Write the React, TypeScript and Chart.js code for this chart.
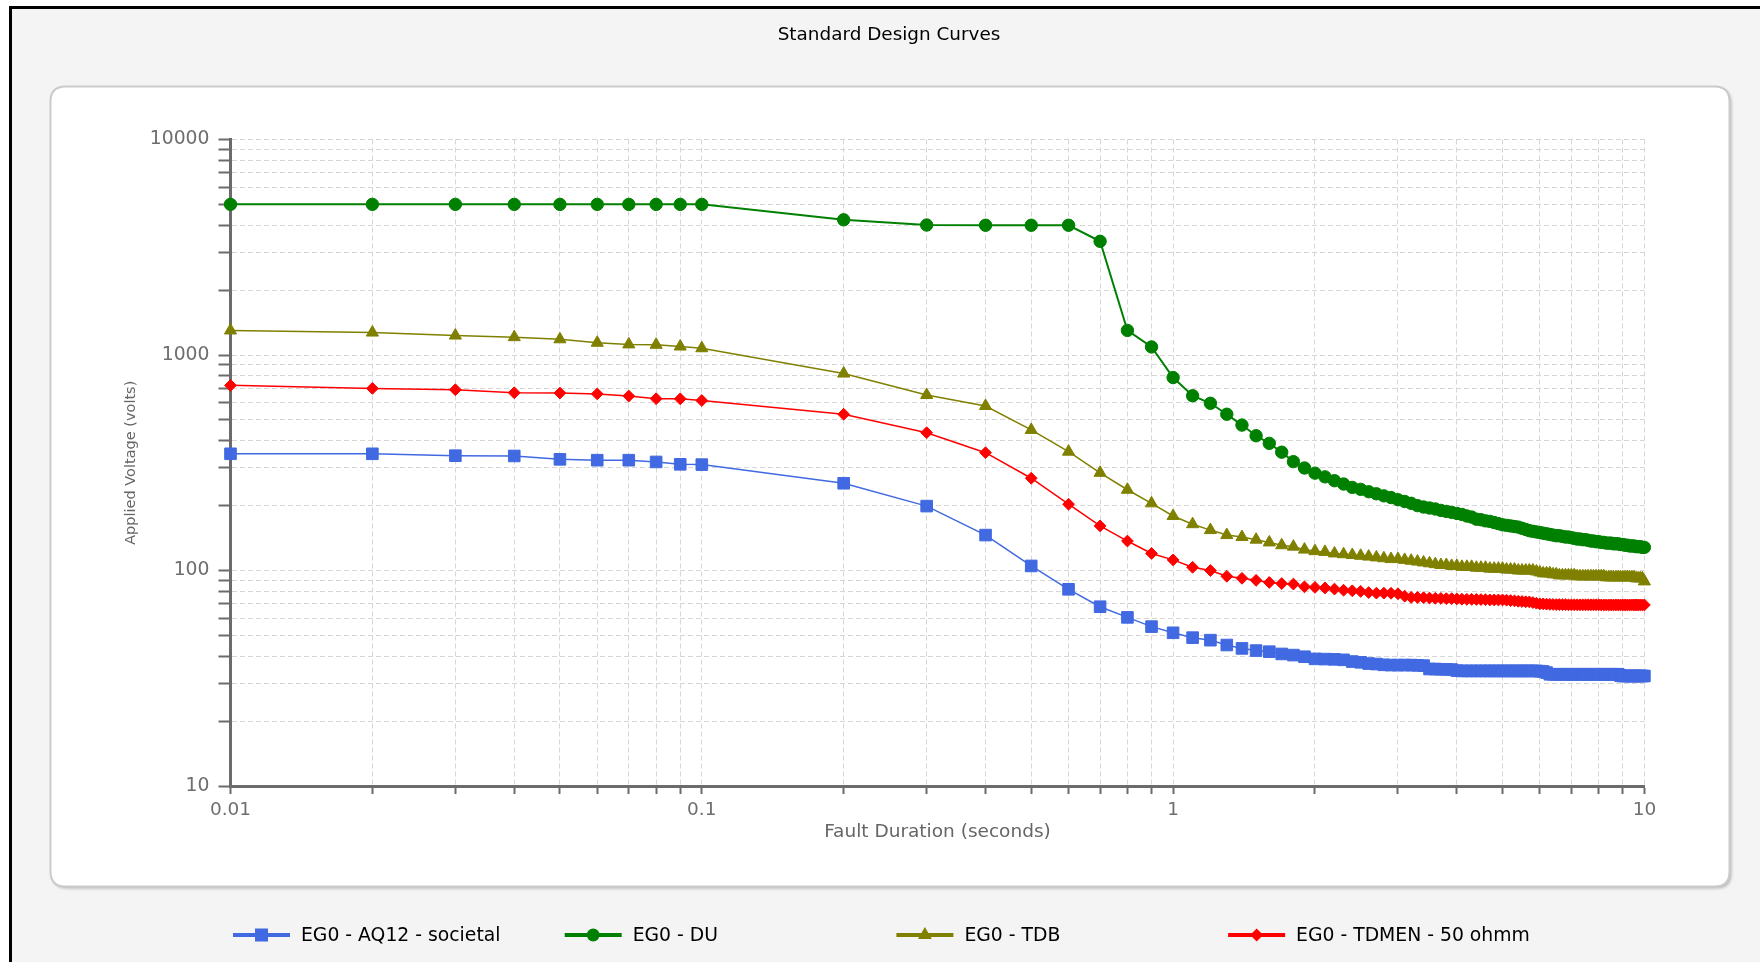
import React, { useEffect, useRef } from 'react';
import { Chart, registerables } from 'chart.js';

Chart.register(...registerables);

const W = 1760;
const H = 962;

const chartTitle = 'Standard Design Curves';
const xAxisTitle = 'Fault Duration (seconds)';
const yAxisTitle = 'Applied Voltage (volts)';

const seriesNames = ['EG0 - AQ12 - societal', 'EG0 - DU', 'EG0 - TDB', 'EG0 - TDMEN - 50 ohmm'];

// Fault duration (seconds)
const durations = [
  0.01, 0.02, 0.03, 0.04, 0.05, 0.06, 0.07, 0.08, 0.09, 0.1,
  0.2, 0.3, 0.4, 0.5, 0.6, 0.7, 0.8, 0.9, 1.0,
  1.1, 1.2, 1.3, 1.4, 1.5, 1.6, 1.7, 1.8, 1.9, 2.0,
  2.1, 2.2, 2.3, 2.4, 2.5, 2.6, 2.7, 2.8, 2.9, 3.0,
  3.1, 3.2, 3.3, 3.4, 3.5, 3.6, 3.7, 3.8, 3.9, 4.0,
  4.1, 4.2, 4.3, 4.4, 4.5, 4.6, 4.7, 4.8, 4.9, 5.0,
  5.1, 5.2, 5.3, 5.4, 5.5, 5.6, 5.7, 5.8, 5.9, 6.0,
  6.1, 6.2, 6.3, 6.4, 6.5, 6.6, 6.7, 6.8, 6.9, 7.0,
  7.1, 7.2, 7.3, 7.4, 7.5, 7.6, 7.7, 7.8, 7.9, 8.0,
  8.1, 8.2, 8.3, 8.4, 8.5, 8.6, 8.7, 8.8, 8.9, 9.0,
  9.1, 9.2, 9.3, 9.4, 9.5, 9.6, 9.7, 9.8, 9.9, 10.0,
];

const aq12Values = [
  348, 348, 341, 340, 328, 325, 325, 319, 311, 310,
  254, 199, 146, 105, 81.8, 67.9, 60.6, 54.9, 51.4,
  48.8, 47.5, 45.1, 43.5, 42.5, 42, 41, 40.5, 39.8, 38.9,
  38.8, 38.7, 38.5, 37.8, 37.5, 37, 36.8, 36.5, 36.4, 36.4,
  36.4, 36.4, 36.3, 36.2, 34.9, 34.9, 34.8, 34.8, 34.7, 34.3,
  34.2, 34.2, 34.2, 34.2, 34.2, 34.2, 34.2, 34.2, 34.2, 34.2,
  34.2, 34.2, 34.2, 34.2, 34.2, 34.2, 34.2, 34.2, 34.2, 34.1,
  34, 33.6, 33, 33, 33, 33, 33, 33, 33, 33,
  33, 33, 33, 33, 33, 33, 33, 33, 33, 33,
  33, 33, 33, 33, 33, 33, 33, 33, 32.5, 32.4,
  32.4, 32.4, 32.4, 32.4, 32.4, 32.4, 32.4, 32.4, 32.4, 32.4,
];

const duValues = [
  5000, 5000, 5000, 5000, 5000, 5000, 5000, 5000, 5000, 5000,
  4240, 4010, 4000, 4000, 4000, 3370, 1300, 1090, 786,
  647, 597, 531, 473, 422, 389, 354, 320, 299, 283,
  272, 261, 252, 243, 238, 232, 227, 222, 218, 213,
  209, 205, 200, 197, 195, 193, 190, 188, 186, 184,
  182, 179, 177, 173, 172, 170, 169, 167, 165, 163,
  162, 161, 160, 159, 157, 155, 153, 152, 151, 150,
  149, 148, 147, 146, 145, 145, 144, 143, 143, 142,
  141, 140, 140, 139, 139, 138, 137, 137, 136, 136,
  135, 135, 134, 134, 134, 133, 133, 133, 132, 132,
  131, 131, 130, 130, 130, 129, 129, 129, 128, 128,
];

const tdbValues = [
  1300, 1271, 1231, 1210, 1183, 1140, 1120, 1115, 1095, 1075,
  820, 652, 580, 449, 356, 284, 237, 205, 179,
  164, 154, 146, 143, 139, 135, 131, 129, 125, 123,
  122, 120, 119, 118, 117, 116, 115, 114, 113, 113,
  112, 111, 110, 109, 108, 107, 106, 106, 105, 105,
  104, 104, 104, 103, 103, 103, 102, 102, 102, 102,
  101, 101, 101, 100, 100, 100, 100, 100, 99, 98,
  97, 97, 97, 96, 96, 95, 95, 95, 95, 95,
  95, 94, 94, 94, 94, 94, 94, 94, 94, 94,
  94, 94, 93, 93, 93, 93, 93, 93, 93, 93,
  93, 93, 93, 93, 93, 92, 92, 92, 92, 89,
];

const tdmenValues = [
  723, 700, 690, 668, 666, 660, 645, 627, 626, 615,
  531, 436, 352, 268, 203, 161, 137, 120, 112,
  103.5, 100, 94, 92, 90, 88, 87, 86.5, 84, 83.5,
  83, 82, 81, 80.5, 80, 79, 78.5, 78.5, 78.4, 78,
  76, 75, 75, 74.8, 74.5, 74.3, 74.2, 74, 74, 73.8,
  73.6, 73.5, 73.5, 73.4, 73.3, 73.2, 73, 73, 73, 73,
  72.8, 72.5, 72.3, 72, 71.8, 71.6, 71.5, 71, 70.5, 70,
  70, 69.8, 69.7, 69.6, 69.5, 69.5, 69.4, 69.4, 69.3, 69.3,
  69.3, 69.3, 69.3, 69.3, 69.3, 69.3, 69.3, 69.3, 69.3, 69.3,
  69.2, 69.2, 69.2, 69.2, 69.2, 69.2, 69.2, 69.2, 69.2, 69.2,
  69.2, 69.2, 69.2, 69.2, 69.2, 69.2, 69.2, 69.2, 69.2, 69.2,
];

const xTicks = [
  0.01, 0.02, 0.03, 0.04, 0.05, 0.06, 0.07, 0.08, 0.09,
  0.1, 0.2, 0.3, 0.4, 0.5, 0.6, 0.7, 0.8, 0.9,
  1, 2, 3, 4, 5, 6, 7, 8, 9, 10,
];
const yTicks = [
  10, 20, 30, 40, 50, 60, 70, 80, 90,
  100, 200, 300, 400, 500, 600, 700, 800, 900,
  1000, 2000, 3000, 4000, 5000, 6000, 7000, 8000, 9000, 10000,
];
const xMajorValues = [0.01, 0.1, 1, 10];
const xTickLabels = ['0.01', '0.1', '1', '10'];
const yMajorValues = [10, 100, 1000, 10000];
const yTickLabels = ['10', '100', '1000', '10000'];

const colors = ['#4169e1', '#008000', '#808000', '#ff0000'];
const styles = ['rect', 'circle', 'triangle', 'rectRot'];
const radii = [8.2, 6.2, 7, 5.9];
const lineWidths = [1.5, 2, 1.5, 1.5];
const seriesValues = [aq12Values, duValues, tdbValues, tdmenValues];

const FONT = "'DejaVu Sans', 'Open Sans', sans-serif";

function majorLabel(v: number, majors: number[], labels: string[]) {
  const i = majors.findIndex((m) => Math.abs(v - m) / m < 1e-6);
  return i >= 0 ? labels[i] : '';
}

function drawMarker(ctx: CanvasRenderingContext2D, style: string, x: number, y: number, r: number) {
  ctx.beginPath();
  if (style === 'rect') {
    ctx.rect(x - r, y - r, 2 * r, 2 * r);
  } else if (style === 'circle') {
    ctx.arc(x, y, r, 0, Math.PI * 2);
  } else if (style === 'triangle') {
    ctx.moveTo(x, y - r);
    ctx.lineTo(x + r * 0.866, y + r * 0.5);
    ctx.lineTo(x - r * 0.866, y + r * 0.5);
    ctx.closePath();
  } else {
    ctx.moveTo(x - r, y);
    ctx.lineTo(x, y - r);
    ctx.lineTo(x + r, y);
    ctx.lineTo(x, y + r);
    ctx.closePath();
  }
  ctx.fill();
}

const decorPlugin = {
  id: 'decor',
  beforeDraw(chart: any) {
    const ctx: CanvasRenderingContext2D = chart.ctx;
    ctx.save();
    ctx.fillStyle = '#ffffff';
    ctx.fillRect(0, 0, W, H);
    ctx.fillStyle = '#f4f4f4';
    ctx.fillRect(10, 7, W - 10, H - 7);
    ctx.fillStyle = '#000000';
    ctx.fillRect(9, 6, W - 9, 3);
    ctx.fillRect(9, 6, 3, H - 6);
    // rounded white panel
    const px = 50.5, py = 86.5, pw = 1679, ph = 800, r = 15;
    ctx.beginPath();
    ctx.moveTo(px + r, py);
    ctx.lineTo(px + pw - r, py);
    ctx.quadraticCurveTo(px + pw, py, px + pw, py + r);
    ctx.lineTo(px + pw, py + ph - r);
    ctx.quadraticCurveTo(px + pw, py + ph, px + pw - r, py + ph);
    ctx.lineTo(px + r, py + ph);
    ctx.quadraticCurveTo(px, py + ph, px, py + ph - r);
    ctx.lineTo(px, py + r);
    ctx.quadraticCurveTo(px, py, px + r, py);
    ctx.closePath();
    ctx.shadowColor = 'rgba(0,0,0,0.25)';
    ctx.shadowBlur = 3;
    ctx.shadowOffsetX = 2;
    ctx.shadowOffsetY = 2;
    ctx.fillStyle = '#ffffff';
    ctx.fill();
    ctx.shadowColor = 'transparent';
    ctx.strokeStyle = '#cbcbcb';
    ctx.lineWidth = 2;
    ctx.stroke();
    ctx.restore();
  },
  afterDraw(chart: any) {
    const ctx: CanvasRenderingContext2D = chart.ctx;
    ctx.save();
    ctx.fillStyle = '#000000';
    ctx.font = `18.4px ${FONT}`;
    ctx.textAlign = 'center';
    ctx.textBaseline = 'middle';
    ctx.fillText(chartTitle, 889, 35);

    // legend
    const ly = 935;
    chart.data.datasets.forEach((ds: any, i: number) => {
      const x0 = 233 + i * 331.7;
      ctx.strokeStyle = ds.borderColor;
      ctx.lineWidth = 4;
      ctx.beginPath();
      ctx.moveTo(x0, ly);
      ctx.lineTo(x0 + 57, ly);
      ctx.stroke();
      ctx.fillStyle = ds.borderColor;
      drawMarker(ctx, styles[i], x0 + 28.5, ly, styles[i] === 'rect' ? 6.5 : styles[i] === 'triangle' ? 8 : 6.5);
      ctx.fillStyle = '#000000';
      ctx.font = `18.8px ${FONT}`;
      ctx.textAlign = 'left';
      ctx.textBaseline = 'middle';
      ctx.fillText(ds.label, x0 + 68, ly + 1);
    });
    ctx.restore();
  },
};

export default function App() {
  const canvasRef = useRef<HTMLCanvasElement | null>(null);

  useEffect(() => {
    if (!canvasRef.current) return;
    const datasets = seriesNames.map((name, i) => ({
      label: name,
      data: durations.map((x, j) => ({ x, y: seriesValues[i][j] })),
      borderColor: colors[i],
      backgroundColor: colors[i],
      borderWidth: lineWidths[i],
      pointStyle: styles[i],
      pointRadius: radii[i],
      pointBackgroundColor: colors[i],
      pointBorderColor: colors[i],
      pointBorderWidth: 1,
      tension: 0,
      fill: false,
      clip: false,
    }));

    const chart = new Chart(canvasRef.current, {
      type: 'line',
      data: { datasets },
      plugins: [decorPlugin],
      options: {
        responsive: false,
        maintainAspectRatio: false,
        animation: false,
        events: [],
        layout: { padding: { left: 0, right: 115.6, top: 139.5, bottom: 106 } },
        plugins: {
          legend: { display: false },
          title: { display: false },
          tooltip: { enabled: false },
        },
        scales: {
          x: {
            type: 'logarithmic',
            min: 0.01,
            max: 10,
            afterBuildTicks: (scale: any) => {
              scale.ticks = xTicks.map((v) => ({ value: v }));
            },
            afterFit: (scale: any) => {
              scale.height = 70;
            },
            ticks: {
              autoSkip: false,
              maxRotation: 0,
              minRotation: 0,
              padding: 5,
              color: '#6e6e6e',
              font: { family: FONT, size: 18.5 },
              callback: (v: any) => majorLabel(Number(v), xMajorValues, xTickLabels),
            },
            grid: {
              color: '#d6d6d6',
              lineWidth: 1,
              drawTicks: true,
              tickLength: 8,
              tickColor: '#6b6b6b',
              tickWidth: 2,
            },
            border: { display: true, color: '#6b6b6b', width: 3, dash: [5, 3] },
            title: {
              display: true,
              text: xAxisTitle,
              color: '#666666',
              font: { family: FONT, size: 18.5 },
              padding: { top: 0, bottom: 13 },
            },
          },
          y: {
            type: 'logarithmic',
            min: 10,
            max: 10000,
            afterBuildTicks: (scale: any) => {
              scale.ticks = yTicks.map((v) => ({ value: v }));
            },
            afterFit: (scale: any) => {
              scale.width = 230.5;
            },
            ticks: {
              autoSkip: false,
              padding: 9,
              color: '#6e6e6e',
              font: { family: FONT, size: 18.8 },
              callback: (v: any) => majorLabel(Number(v), yMajorValues, yTickLabels),
            },
            grid: {
              color: '#d6d6d6',
              lineWidth: 1,
              drawTicks: true,
              tickLength: 12,
              tickColor: '#6b6b6b',
              tickWidth: 2,
            },
            border: { display: true, color: '#6b6b6b', width: 3, dash: [5, 3] },
            title: {
              display: true,
              text: yAxisTitle,
              color: '#666666',
              font: { family: FONT, size: 14.5 },
              padding: { top: 122.3, bottom: 0 },
            },
          },
        },
      } as any,
    });
    return () => chart.destroy();
  }, []);

  return (
    <div style={{ position: 'fixed', left: 0, top: 0, width: W, height: H, overflow: 'hidden' }}>
      <canvas ref={canvasRef} width={W} height={H} style={{ display: 'block', width: W, height: H }} />
    </div>
  );
}
